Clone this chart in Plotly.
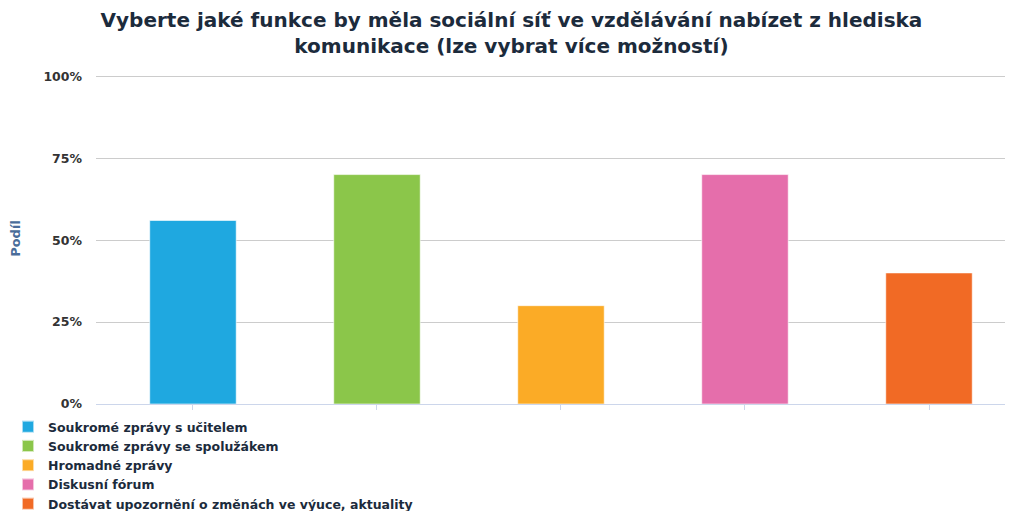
import plotly.graph_objects as go

categories = [
    "Soukromé zprávy s učitelem",
    "Soukromé zprávy se spolužákem",
    "Hromadné zprávy",
    "Diskusní fórum",
    "Dostávat upozornění o změnách ve výuce, aktuality",
]
values = [0.56, 0.70, 0.30, 0.70, 0.40]
colors = ["#1fa8e0", "#8bc64a", "#fbab26", "#e56eab", "#f16a25"]
y_ticks = [0, 0.25, 0.5, 0.75, 1.0]
y_tick_labels = ["0%", "25%", "50%", "75%", "100%"]
title_text = "Vyberte jaké funkce by měla sociální síť ve vzdělávání nabízet z hlediska<br>komunikace (lze vybrat více možností)"

fig = go.Figure()
for cat, val, col in zip(categories, values, colors):
    fig.add_trace(go.Bar(
        x=[cat], y=[val], name=cat,
        marker=dict(color=col, line=dict(color="rgba(255,255,255,0.6)", width=1)),
        width=0.47,
    ))

FONT = "DejaVu Sans"
fig.update_layout(
    width=1013, height=511,
    margin=dict(l=88, r=0, t=65, b=115),
    paper_bgcolor="white", plot_bgcolor="white",
    barmode="overlay",
    showlegend=True,
    title=dict(text=title_text, x=0.497, xanchor="center",
               y=0.963, yanchor="middle", automargin=False,
               font=dict(family=FONT, size=20, color="#1c2b3c", weight="bold")),
    legend=dict(orientation="v", xref="paper", x=-88 / 925, xanchor="left",
                yref="container", y=1 - 404 / 511, yanchor="top",
                font=dict(family=FONT, size=12.5, color="#1c2b3c", weight="bold"),
                tracegroupgap=0, itemsizing="constant", bgcolor="rgba(0,0,0,0)"),
    xaxis=dict(type="category", categoryorder="array", categoryarray=categories,
               range=[-0.527, 4.50], showticklabels=False, automargin=False,
               ticks="outside", ticklen=5, tickcolor="#ccd6eb", tickwidth=1,
               showline=True, linecolor="#ccd6eb", linewidth=1,
               showgrid=False, zeroline=False, fixedrange=True),
    yaxis=dict(range=[0, 1.01], tickvals=y_ticks, ticktext=y_tick_labels,
               showgrid=True, gridcolor="#cccccc", gridwidth=1, automargin=False,
               zeroline=False, showline=False, ticks="",
               ticklabelstandoff=13,
               tickfont=dict(family=FONT, size=12.5, color="#333333", weight="bold"),
               title=dict(text="Podíl", standoff=24,
                          font=dict(family=FONT, size=13, color="#4a6d9a", weight="bold"))),
)

fig.write_html("out.html")
